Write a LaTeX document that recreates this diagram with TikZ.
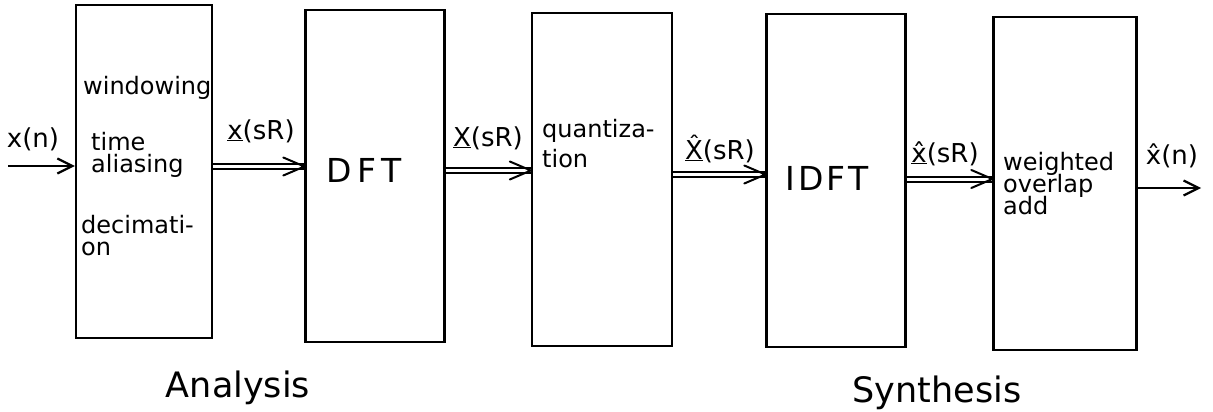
\documentclass[tikz,border=0pt]{standalone}
\usepackage{fontspec}
\setmainfont{DejaVu Sans}
\usetikzlibrary{arrows.meta}
\newcommand\tightlines{\setlength{\lineskiplimit}{-30pt}\setlength{\lineskip}{0pt}}
\begin{document}
\begin{tikzpicture}[x=1pt,y=-1pt,
  blk/.style={draw, line width=2.4pt, rectangle, inner sep=0pt},
  txtA/.style={font={\fontsize{24}{22}\selectfont\tightlines}, inner sep=0pt, align=left, anchor=north west},
  txtC/.style={font={\fontsize{24}{30}\selectfont\tightlines}, inner sep=0pt, align=left, anchor=north west},
  lbl/.style={font=\fontsize{26}{26}\selectfont, inner sep=0pt, anchor=base},
  big/.style={font=\fontsize{33}{33}\selectfont, inner sep=0pt},
  captxt/.style={font=\fontsize{35}{35}\selectfont, inner sep=0pt, anchor=base},
  dbl/.style={double, double distance=3pt, line width=2pt},
  barb/.style={line width=2pt, line cap=round, line join=round},
  sarrow/.style={line width=2.2pt, -{Straight Barb[length=15pt,width=15pt,line width=2.2pt]}}
]
\useasboundingbox (0,0) rectangle (1213,412);

% blocks
\node[blk, minimum width=136pt, minimum height=333pt] (b1) at (144,171.5) {};
\node[blk, minimum width=139pt, minimum height=332pt] (b2) at (375,176) {};
\node[blk, minimum width=140pt, minimum height=333pt] (b3) at (602,179.5) {};
\node[blk, minimum width=139pt, minimum height=333pt] (b4) at (836,180.5) {};
\node[blk, minimum width=143pt, minimum height=333pt] (b5) at (1065,183.5) {};

% block texts
\node[font=\fontsize{24}{24}\selectfont, inner sep=0pt, anchor=base west] (t1a) at (83,95) {windowing};
\node[txtA] (t1b) at (91,132) {time\\aliasing};
\node[txtA] (t1c) at (81,215) {decimati-\\on};
\node[big] (t2) at (364,170) {D\kern6pt F\kern5pt T};
\node[txtC] (t3) at (542,119) {quantiza-\\tion};
\node[big] (t4) at (827,178) {I\kern3pt D\kern3pt F\kern3pt T};
\node[txtA] (t5) at (1003,152) {weighted\\overlap\\add};

% captions
\node[captxt] (ana) at (238,397) {Analysis};
\node[captxt] (syn) at (937,402) {Synthesis};

% input / output
\coordinate (in) at (8,166);
\coordinate (out) at (1201,188);
\draw[sarrow] (in) -- (b1.west |- in);
\draw[sarrow] (b5.east |- out) -- (out);

% double arrows
\coordinate (e1) at (b2.west |- 0,166.5);
\coordinate (e2) at (b3.west |- 0,170.5);
\coordinate (e3) at (b4.west |- 0,174.5);
\coordinate (e4) at (b5.west |- 0,179);
\draw[dbl] (b1.east |- e1) -- (e1);
\draw[dbl] (b2.east |- e2) -- (e2);
\draw[dbl] (b3.east |- e3) -- (e3);
\draw[dbl] (b4.east |- e4) -- (e4);
\foreach \e in {e1,e2,e3,e4}{
  \draw[barb] ([shift={(-21,-9)}]\e) -- (\e) -- ([shift={(-21,9)}]\e);
}

% labels
\node[lbl] (lxn) at (33,147) {x(n)};
\node[lbl] (l1) at (261,139) {\underline{x}(sR)};
\node[lbl] (l2) at (488,146) {\underline{X}(sR)};
\node[lbl] (l3) at (720,159) {\underline{\^{X}}(sR)};
\node[lbl] (l4) at (945,162) {\underline{\^{x}}(sR)};
\node[lbl] (lout) at (1172,164) {\^{x}(n)};
\end{tikzpicture}
\end{document}
